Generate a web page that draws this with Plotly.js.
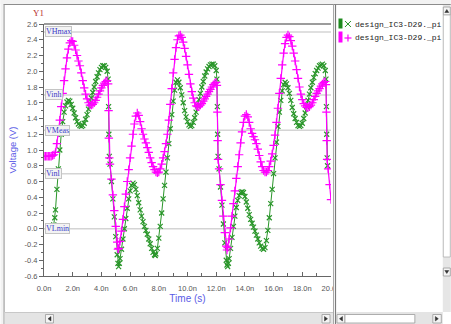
<!DOCTYPE html>
<html><head><meta charset="utf-8">
<script src="https://cdn.plot.ly/plotly-3.0.1.min.js"></script>
<style>html,body{margin:0;padding:0;background:#fff}#chart{width:451px;height:324px}</style>
</head><body><div id="chart"></div>
<script>
// ---- data ----
var seriesNames = ['design_IC3-D29._pi', 'design_IC3-D29._pi'];

var tGreen = [0.68,0.75,0.8,0.9,1.0,1.1,1.2,1.3,1.4,1.5,1.6,1.7,1.8,1.9,2.0,2.1,2.2,2.3,2.4,2.5,2.6,2.7,2.8,2.9,3.0,3.1,3.2,3.3,3.4,3.5,3.6,3.7,3.8,3.9,4.0,4.1,4.2,4.3,4.4,4.47,4.5,4.52,4.55,4.6,4.7,4.8,4.9,5.0,5.1,5.15,5.2,5.25,5.3,5.4,5.5,5.6,5.7,5.8,5.9,6.0,6.1,6.2,6.3,6.4,6.5,6.6,6.7,6.8,6.9,7.0,7.1,7.2,7.3,7.4,7.5,7.6,7.7,7.75,7.8,7.9,8.0,8.1,8.2,8.3,8.4,8.5,8.6,8.7,8.8,8.9,9.0,9.1,9.2,9.3,9.4,9.5,9.6,9.7,9.8,9.9,10.0,10.1,10.2,10.3,10.4,10.5,10.6,10.7,10.8,10.9,11.0,11.1,11.2,11.3,11.4,11.5,11.6,11.7,11.8,11.9,12.0,12.05,12.08,12.1,12.13,12.2,12.3,12.4,12.5,12.6,12.7,12.75,12.8,12.85,12.9,13.0,13.1,13.2,13.3,13.4,13.5,13.6,13.7,13.8,13.9,14.0,14.1,14.2,14.3,14.4,14.5,14.6,14.7,14.8,14.9,15.0,15.1,15.2,15.3,15.4,15.5,15.6,15.7,15.8,15.9,16.0,16.1,16.2,16.3,16.4,16.5,16.6,16.7,16.8,16.9,17.0,17.1,17.2,17.3,17.4,17.5,17.6,17.7,17.8,17.9,18.0,18.1,18.2,18.3,18.4,18.5,18.6,18.7,18.8,18.9,19.0,19.1,19.2,19.3,19.4,19.5,19.6,19.65,19.68,19.7,19.73,19.76];
var vGreen = [0.05,0.14,0.24,0.5,0.76,1.0,1.2,1.36,1.48,1.56,1.61,1.63,1.62,1.58,1.53,1.47,1.41,1.36,1.33,1.31,1.3,1.31,1.34,1.39,1.45,1.52,1.59,1.66,1.73,1.8,1.87,1.93,1.98,2.02,2.05,2.07,2.07,2.05,2.0,1.9,1.55,1.2,0.92,0.82,0.6,0.38,0.15,-0.1,-0.33,-0.44,-0.48,-0.44,-0.38,-0.26,-0.13,0.0,0.13,0.26,0.38,0.48,0.55,0.58,0.56,0.5,0.42,0.33,0.24,0.16,0.09,0.03,-0.02,-0.07,-0.13,-0.19,-0.25,-0.3,-0.33,-0.34,-0.32,-0.25,-0.12,0.03,0.2,0.38,0.55,0.72,0.9,1.08,1.27,1.45,1.62,1.76,1.86,1.89,1.86,1.79,1.7,1.6,1.5,1.42,1.36,1.32,1.3,1.31,1.35,1.41,1.48,1.56,1.64,1.72,1.8,1.87,1.94,1.99,2.03,2.06,2.08,2.09,2.09,2.07,2.01,1.9,1.55,1.2,0.92,0.76,0.53,0.3,0.06,-0.18,-0.4,-0.46,-0.48,-0.44,-0.38,-0.25,-0.11,0.03,0.16,0.27,0.36,0.42,0.46,0.47,0.46,0.41,0.34,0.26,0.18,0.12,0.07,0.02,-0.03,-0.08,-0.13,-0.18,-0.22,-0.25,-0.26,-0.24,-0.15,-0.02,0.14,0.32,0.5,0.7,0.9,1.1,1.3,1.48,1.63,1.75,1.83,1.86,1.84,1.79,1.72,1.63,1.54,1.46,1.4,1.35,1.31,1.3,1.31,1.34,1.4,1.47,1.55,1.63,1.71,1.79,1.86,1.92,1.97,2.01,2.04,2.07,2.08,2.09,2.07,2.01,1.9,1.55,1.2,0.9,0.8];

var tMagenta = [0.0,0.1,0.2,0.3,0.4,0.5,0.6,0.7,0.8,0.9,1.0,1.1,1.2,1.3,1.4,1.5,1.6,1.7,1.8,1.9,2.0,2.1,2.2,2.3,2.4,2.5,2.6,2.7,2.8,2.9,3.0,3.1,3.2,3.3,3.4,3.5,3.6,3.7,3.8,3.9,4.0,4.1,4.2,4.3,4.4,4.47,4.5,4.52,4.55,4.6,4.7,4.8,4.9,5.0,5.1,5.15,5.2,5.3,5.4,5.5,5.6,5.7,5.8,5.9,6.0,6.1,6.2,6.3,6.4,6.5,6.6,6.7,6.8,6.9,7.0,7.1,7.2,7.3,7.4,7.5,7.6,7.7,7.8,7.9,8.0,8.1,8.2,8.3,8.4,8.5,8.6,8.7,8.8,8.9,9.0,9.1,9.2,9.3,9.4,9.5,9.6,9.7,9.8,9.9,10.0,10.1,10.2,10.3,10.4,10.5,10.6,10.7,10.8,10.9,11.0,11.1,11.2,11.3,11.4,11.5,11.6,11.7,11.8,11.9,12.0,12.05,12.08,12.1,12.13,12.2,12.3,12.4,12.5,12.6,12.7,12.75,12.8,12.9,13.0,13.1,13.2,13.3,13.4,13.5,13.6,13.7,13.8,13.9,14.0,14.1,14.2,14.3,14.4,14.5,14.6,14.7,14.8,14.9,15.0,15.1,15.2,15.3,15.4,15.5,15.6,15.7,15.8,15.9,16.0,16.1,16.2,16.3,16.4,16.5,16.6,16.7,16.8,16.9,17.0,17.1,17.2,17.3,17.4,17.5,17.6,17.7,17.8,17.9,18.0,18.1,18.2,18.3,18.4,18.5,18.6,18.7,18.8,18.9,19.0,19.1,19.2,19.3,19.4,19.5,19.6,19.65,19.68,19.7,19.73,19.8,19.9,20.0];
var vMagenta = [0.92,0.92,0.92,0.92,0.92,0.92,0.93,0.94,0.97,1.08,1.22,1.38,1.55,1.72,1.88,2.03,2.17,2.28,2.36,2.39,2.38,2.33,2.27,2.2,2.13,2.07,1.98,1.88,1.79,1.71,1.65,1.6,1.57,1.57,1.58,1.6,1.63,1.67,1.71,1.75,1.79,1.82,1.85,1.87,1.88,1.84,1.5,1.15,0.9,0.82,0.63,0.43,0.23,0.03,-0.17,-0.26,-0.25,-0.16,-0.03,0.12,0.28,0.44,0.6,0.75,0.9,1.05,1.2,1.33,1.43,1.47,1.44,1.36,1.27,1.2,1.14,1.09,1.03,0.97,0.9,0.84,0.79,0.75,0.72,0.71,0.72,0.76,0.82,0.9,0.98,1.08,1.2,1.38,1.58,1.78,1.98,2.15,2.3,2.4,2.45,2.46,2.43,2.37,2.29,2.19,2.08,1.96,1.84,1.74,1.66,1.6,1.56,1.55,1.55,1.57,1.59,1.62,1.65,1.68,1.71,1.74,1.77,1.8,1.83,1.85,1.86,1.82,1.48,1.12,0.88,0.76,0.56,0.36,0.16,-0.05,-0.22,-0.27,-0.24,-0.13,0.01,0.16,0.32,0.48,0.64,0.79,0.94,1.09,1.23,1.35,1.43,1.45,1.42,1.35,1.27,1.21,1.17,1.13,1.08,1.01,0.93,0.85,0.79,0.74,0.72,0.72,0.74,0.79,0.86,0.95,1.06,1.19,1.35,1.53,1.72,1.91,2.08,2.23,2.35,2.43,2.46,2.44,2.39,2.32,2.23,2.13,2.02,1.91,1.8,1.71,1.64,1.59,1.56,1.54,1.54,1.55,1.57,1.6,1.64,1.68,1.72,1.75,1.78,1.81,1.84,1.86,1.87,1.83,1.48,1.12,0.88,0.76,0.56,0.37];

var refLevels = [2.5, 1.7, 1.25, 0.7, 0.0];
var refNames = ['VHmax', 'Vinh', 'VMeas', 'Vinl', 'VLmin'];

var yTickVals = [2.6,2.4,2.2,2.0,1.8,1.6,1.4,1.2,1.0,0.8,0.6,0.4,0.2,0.0,-0.2,-0.4,-0.6];
var yTickText = ['2.6','2.4','2.2','2.0','1.8','1.6','1.4','1.2','1.0','0.8','0.6','0.4','0.2','0.0','-0.2','-0.4','-0.6'];
var xTickVals = [0,2,4,6,8,10,12,14,16,18,20];
var xTickText = ['0.0n','2.0n','4.0n','6.0n','8.0n','10.0n','12.0n','14.0n','16.0n','18.0n','20.0n'];

// ---- geometry helpers (pixel -> paper) ----
var L = 43.5, R = 331, T = 24, B = 276;
function xp(px){ return (px - L) / (R - L); }
function yp(py){ return (B - py) / (B - T); }

var GREEN = '#2a962a', MAGENTA = '#ff00ff';

var traces = [
  {x: tGreen, y: vGreen, type: 'scatter', mode: 'lines+markers', name: seriesNames[0],
   line: {color: GREEN, width: 1},
   marker: {symbol: 'x-thin-open', size: 5, color: GREEN, line: {color: GREEN, width: 1.2}}},
  {x: tMagenta, y: vMagenta, type: 'scatter', mode: 'lines+markers', name: seriesNames[1],
   line: {color: MAGENTA, width: 1.2},
   marker: {symbol: 'cross-thin-open', size: 6, color: MAGENTA, line: {color: MAGENTA, width: 1.2}}}
];

var shapes = [];
refLevels.forEach(function(v){
  shapes.push({type: 'line', xref: 'paper', yref: 'y', x0: 0, x1: 1, y0: v, y1: v,
    line: {color: '#d4d4d4', width: 1.5}, layer: 'below'});
});
shapes.push({type: 'line', xref: 'paper', yref: 'paper', x0: 0, x1: 1, y0: 1, y1: 1,
  line: {color: '#9c9c9c', width: 2}, layer: 'above'});

function rect(x0,y0,x1,y1,fill,stroke,w){
  shapes.push({type:'rect', xref:'paper', yref:'paper', x0:xp(x0), x1:xp(x1), y0:yp(y1), y1:yp(y0),
    fillcolor: fill, line:{color: stroke || 'rgba(0,0,0,0)', width: w||0}, layer:'above'});
}
function seg(x0,y0,x1,y1,color,w){
  shapes.push({type:'line', xref:'paper', yref:'paper', x0:xp(x0), x1:xp(x1), y0:yp(y0), y1:yp(y1),
    line:{color: color, width: w}, layer:'above'});
}
function tri(pts, color){
  var d = 'M' + pts.map(function(p){ return xp(p[0]) + ',' + yp(p[1]); }).join('L') + 'Z';
  shapes.push({type:'path', xref:'paper', yref:'paper', path: d, fillcolor: color, line:{color: color, width: 0.5}, layer:'above'});
}
rect(333, 0, 451, 324, '#ffffff');
rect(0, 0, 451, 4, '#f2f2f2');
rect(0, 0, 3, 324, '#f2f2f2');
seg(3, 4.5, 451, 4.5, '#8c8c8c', 1);
seg(3.5, 4.5, 3.5, 324, '#8c8c8c', 1);
seg(333.5, 4.5, 333.5, 324, '#a8a8a8', 1);
seg(335.5, 4.5, 335.5, 324, '#7c7c7c', 1.2);
rect(4, 312, 333, 324, '#e4e4e4');
rect(336, 312, 443, 324, '#e4e4e4');
seg(4, 312.5, 333, 312.5, '#c8c8c8', 1);
rect(45, 314.5, 53, 323, '#f4f4f4', '#9a9a9a', 0.8);
tri([[50.5,316.5],[50.5,321],[47.5,318.75]], '#333');
rect(322, 314.5, 330, 323, '#f4f4f4', '#9a9a9a', 0.8);
tri([[324.5,316.5],[324.5,321],[327.5,318.75]], '#333');
rect(337, 314.5, 345, 323, '#f4f4f4', '#9a9a9a', 0.8);
tri([[342.5,316.5],[342.5,321],[339.5,318.75]], '#333');
rect(345, 314.5, 415, 323, '#ffffff', '#9a9a9a', 0.8);
rect(433, 314.5, 441.5, 323, '#f4f4f4', '#9a9a9a', 0.8);
tri([[435.5,316.5],[435.5,321],[438.5,318.75]], '#333');
rect(443, 5, 451, 312, '#e6e6e6');
rect(443.5, 7, 450.5, 15, '#f4f4f4', '#9a9a9a', 0.8);
tri([[445,12.5],[449,12.5],[447,9.5]], '#333');
rect(443.5, 15, 450.5, 257, '#ffffff', '#b0b0b0', 0.8);
rect(443.5, 268, 450.5, 276, '#f4f4f4', '#9a9a9a', 0.8);
tri([[445,270.5],[449,270.5],[447,273.5]], '#333');
rect(338.5, 18.5, 342.5, 28.5, '#1f8a1f');
seg(345, 21, 351, 27, GREEN, 1);
seg(345, 27, 351, 21, GREEN, 1);
rect(338.5, 31.5, 342.5, 42.5, MAGENTA);
seg(344.5, 38, 351.5, 38, MAGENTA, 1.2);
seg(348, 34.5, 348, 41.5, MAGENTA, 1.2);

var annotations = [];
refLevels.forEach(function(v, i){
  annotations.push({xref: 'paper', yref: 'y', x: xp(45), y: v, xanchor: 'left', yanchor: 'middle',
    text: refNames[i], showarrow: false,
    font: {family: 'Liberation Serif, DejaVu Serif, serif', size: 8, color: '#3a3ac8'},
    bgcolor: '#f3f3f3', bordercolor: '#c4c4c4', borderwidth: 1, borderpad: 0});
});
annotations.push({xref: 'paper', yref: 'paper', x: xp(38), y: yp(13), text: 'Y1', showarrow: false,
  xanchor: 'center', yanchor: 'middle',
  font: {family: 'Liberation Serif, serif', size: 9, color: '#b83030'}});
[24, 37].forEach(function(py, i){
  annotations.push({xref: 'paper', yref: 'paper', x: xp(353.5), y: yp(py), text: seriesNames[i], showarrow: false,
    xanchor: 'left', yanchor: 'middle',
    font: {family: 'Liberation Mono, DejaVu Sans Mono, monospace', size: 8, color: '#222'}});
});

var layout = {
  width: 451, height: 324,
  margin: {l: L, r: 451 - R, t: T, b: 324 - B},
  paper_bgcolor: '#ffffff', plot_bgcolor: '#ffffff',
  showlegend: false,
  font: {family: 'Liberation Sans, Arial, sans-serif'},
  xaxis: {
    range: [0, 20], tickmode: 'array', tickvals: xTickVals, ticktext: xTickText,
    ticks: 'inside', ticklen: 4, tickcolor: '#666', showline: true, linecolor: '#666', linewidth: 1,
    showgrid: false, zeroline: false, ticklabelstandoff: 5,
    tickfont: {size: 7.5, color: '#555'},
    minor: {tickmode: 'linear', tick0: 0, dtick: 1, ticks: 'inside', ticklen: 3, tickcolor: '#666', showgrid: false},
    title: {text: 'Time (s)', font: {size: 10, color: '#5a5ae6'}, standoff: 2}
  },
  yaxis: {
    range: [-0.6, 2.6], tickmode: 'array', tickvals: yTickVals, ticktext: yTickText,
    ticks: 'outside', ticklen: 4, tickcolor: '#666', showline: true, linecolor: '#666', linewidth: 1,
    showgrid: false, zeroline: false,
    tickfont: {size: 7.5, color: '#555'},
    minor: {tickmode: 'linear', tick0: 0, dtick: 0.1, ticks: 'outside', ticklen: 2, tickcolor: '#666', showgrid: false},
    title: {text: 'Voltage (V)', font: {size: 9.5, color: '#5a5ae6'}, standoff: 6}
  },
  shapes: shapes,
  annotations: annotations
};

Plotly.newPlot('chart', traces, layout, {staticPlot: true, displayModeBar: false});
</script></body></html>
